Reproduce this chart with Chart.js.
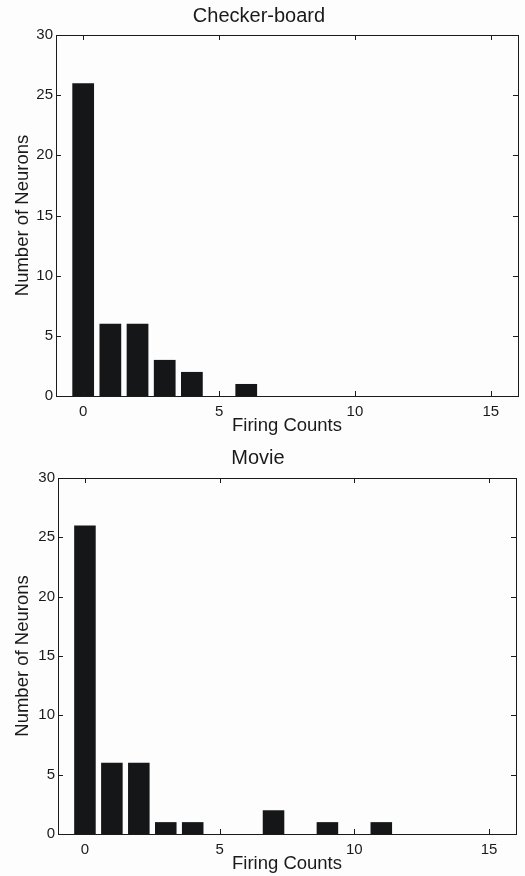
<!DOCTYPE html>
<html>
<head>
<meta charset="utf-8">
<script src="https://cdn.jsdelivr.net/npm/chart.js@4/dist/chart.umd.min.js"></script>
<style>
  body { margin: 0; background: #fdfdfd; }
  .plot { position: absolute; left: 0; width: 525px; height: 438px; }
  #top { top: 0; }
  #bottom { top: 438px; }
</style>
</head>
<body>
<div class="plot" id="top"><canvas id="chart1"></canvas></div>
<div class="plot" id="bottom"><canvas id="chart2"></canvas></div>
<script>
"use strict"

// histogram bins (firing counts 0..15)
const firingCounts = [0, 1, 2, 3, 4, 5, 6, 7, 8, 9, 10, 11, 12, 13, 14, 15]
const checkerNeurons = [26, 6, 6, 3, 2, 0, 1, 0, 0, 0, 0, 0, 0, 0, 0, 0]
const movieNeurons = [26, 6, 6, 1, 1, 0, 0, 2, 0, 1, 0, 1, 0, 0, 0, 0]
const xTicks = [0, 5, 10, 15]
const yTicks = [0, 5, 10, 15, 20, 25, 30]

const FONT = "'Liberation Sans', Arial, sans-serif"
const INK = "#1a1a1a"

// matlab style box + inward ticks on all 4 sides
const boxTicks = {
    id: "boxTicks",
    afterDraw(chart) {
        const ctx = chart.ctx
        const a = chart.chartArea
        const xs = chart.scales.x
        const ys = chart.scales.y
        ctx.save()
        ctx.strokeStyle = INK
        ctx.lineWidth = 1
        ctx.strokeRect(Math.round(a.left) + 0.5, Math.round(a.top) + 0.5,
            Math.round(a.right - a.left), Math.round(a.bottom - a.top))
        ctx.beginPath()
        for (const t of xTicks) {
            const px = Math.round(xs.getPixelForValue(t)) + 0.5
            ctx.moveTo(px, a.bottom); ctx.lineTo(px, a.bottom - 5)
            ctx.moveTo(px, a.top); ctx.lineTo(px, a.top + 5)
        }
        for (const t of yTicks) {
            const py = Math.round(ys.getPixelForValue(t)) + 0.5
            ctx.moveTo(a.left, py); ctx.lineTo(a.left + 5, py)
            ctx.moveTo(a.right, py); ctx.lineTo(a.right - 5, py)
        }
        ctx.stroke()
        ctx.restore()
    }
}

const makeChart = (canvasId, title, values, titlePad, pad) => {
    const points = firingCounts.map((x, i) => ({ x: x, y: values[i] }))
    return new Chart(document.getElementById(canvasId), {
        type: "bar",
        data: {
            datasets: [{
                data: points,
                backgroundColor: "#151617",
                borderWidth: 0,
                categoryPercentage: 0.8,
                barPercentage: 1.0
            }]
        },
        options: {
            responsive: true,
            maintainAspectRatio: false,
            animation: false,
            layout: { padding: pad },
            plugins: {
                legend: { display: false },
                tooltip: { enabled: false },
                title: {
                    display: true,
                    text: title,
                    color: INK,
                    font: { family: FONT, size: 20, weight: "normal" },
                    padding: titlePad
                }
            },
            scales: {
                x: {
                    type: "linear",
                    min: -1,
                    max: 16,
                    offset: false,
                    grid: { display: false, drawTicks: false },
                    border: { display: false },
                    afterBuildTicks: (s) => { s.ticks = xTicks.map(v => ({ value: v })) },
                    afterFit: (s) => { s.height = 42 },
                    ticks: { color: INK, font: { family: FONT, size: 15 }, padding: 7, maxRotation: 0 },
                    title: {
                        display: true, text: "Firing Counts", color: INK,
                        font: { family: FONT, size: 18.5 }, padding: { top: 0, bottom: 1 }
                    }
                },
                y: {
                    min: 0,
                    max: 30,
                    grid: { display: false, drawTicks: false },
                    border: { display: false },
                    afterBuildTicks: (s) => { s.ticks = yTicks.map(v => ({ value: v })) },
                    afterFit: (s) => { s.width = pad.yw },
                    ticks: { color: INK, font: { family: FONT, size: 15 }, padding: 3 },
                    title: {
                        display: true, text: "Number of Neurons", color: INK,
                        font: { family: FONT, size: 18.5 }, padding: { top: 12, bottom: 0 }
                    }
                }
            }
        },
        plugins: [boxTicks]
    })
}

makeChart("chart1", "Checker-board", checkerNeurons, { top: 4, bottom: 7 }, { top: 0, right: 7, bottom: 0, left: 0, yw: 56 })
makeChart("chart2", "Movie", movieNeurons, { top: 8, bottom: 8 }, { top: 0, right: 9, bottom: 0, left: 0, yw: 58 })
</script>
</body>
</html>
